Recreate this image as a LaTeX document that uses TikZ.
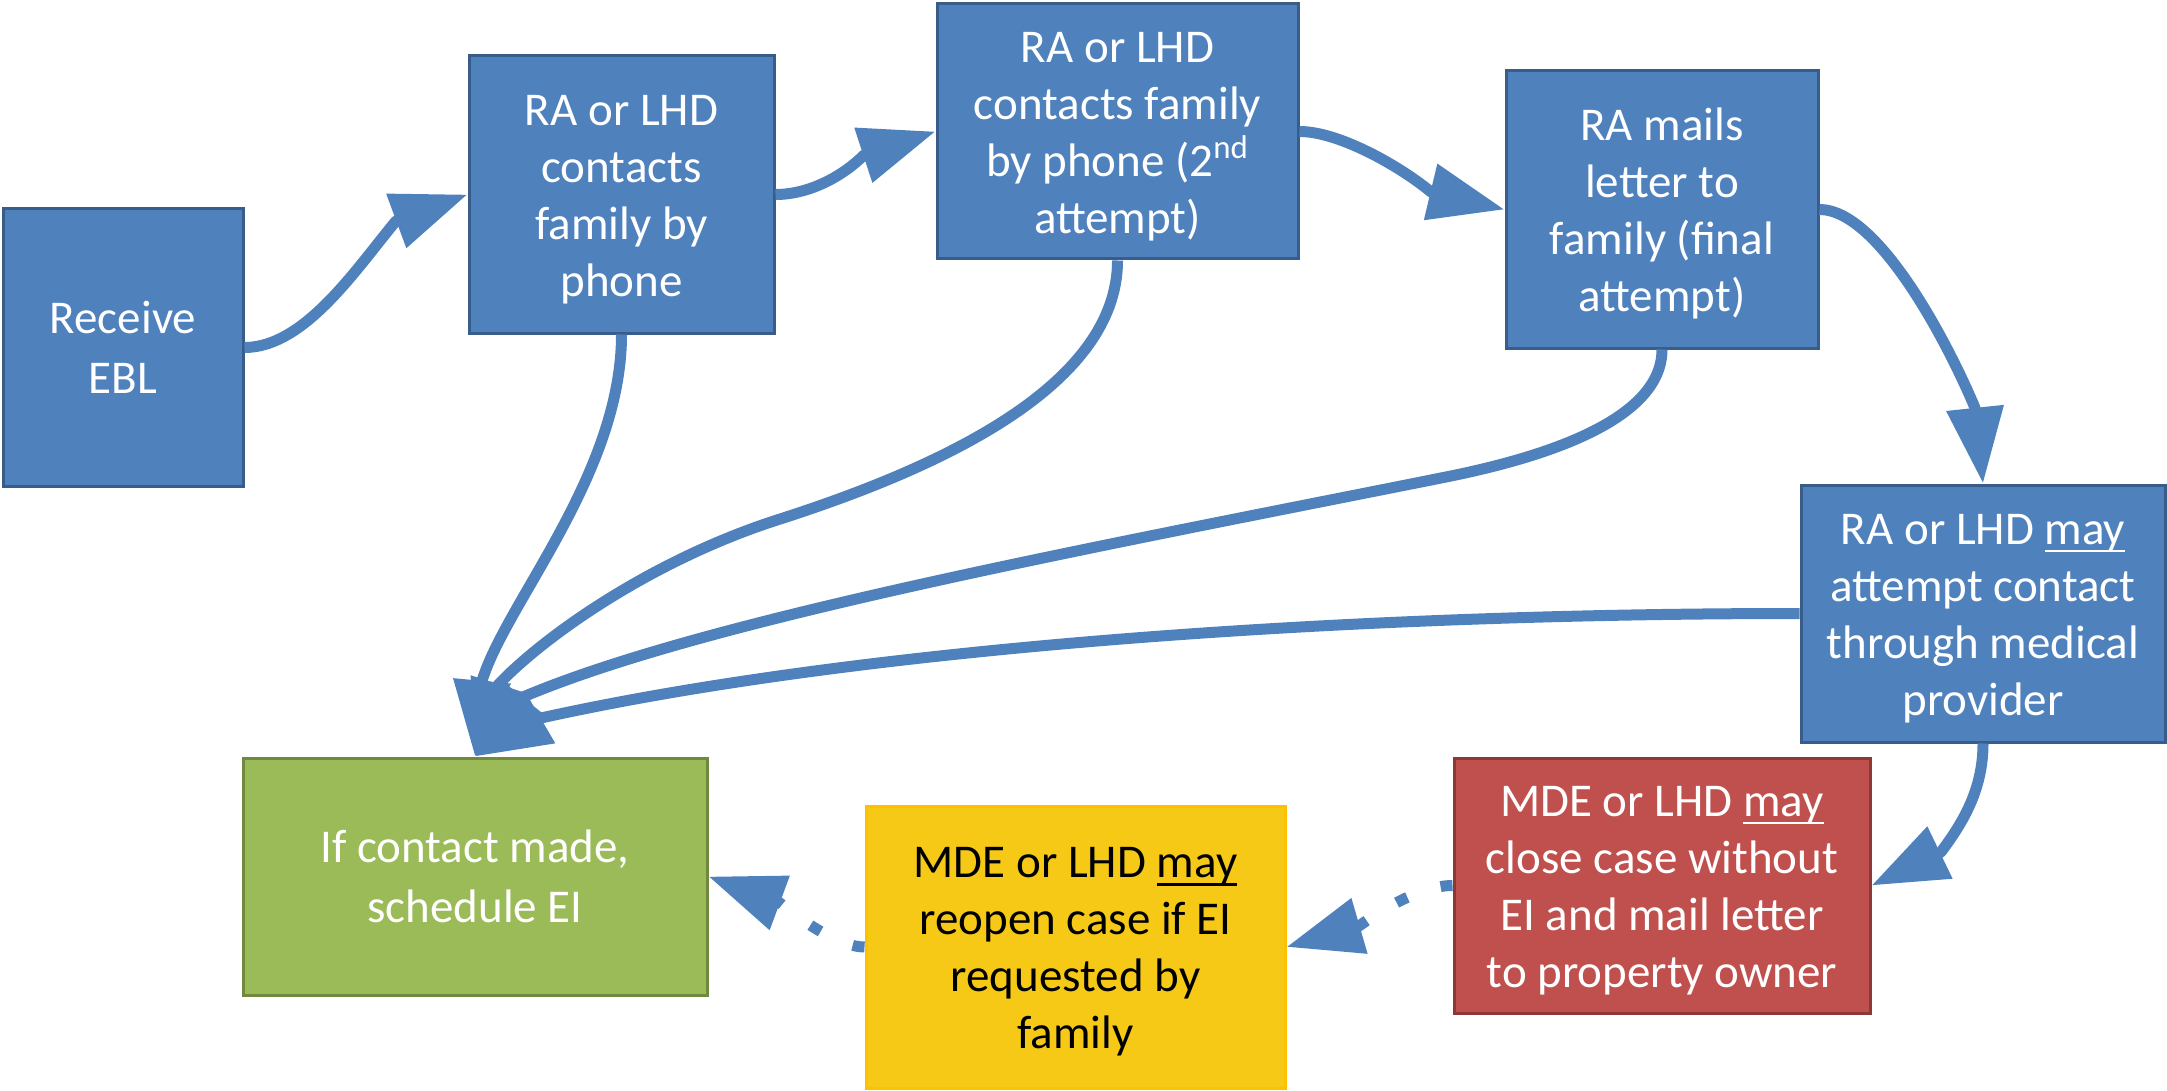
\documentclass[tikz,border=0pt]{standalone}
\usepackage{fontspec}
\setmainfont{Carlito}
\usetikzlibrary{arrows.meta}
\definecolor{bfill}{HTML}{4F81BD}
\definecolor{bline}{HTML}{385D8A}
\definecolor{gfill}{HTML}{9BBB59}
\definecolor{gline}{HTML}{71893F}
\definecolor{rfill}{HTML}{C0504D}
\definecolor{rline}{HTML}{8C3836}
\definecolor{yfill}{HTML}{F5C916}
\definecolor{yline}{HTML}{FFC000}
\definecolor{conn}{HTML}{4F81BD}
\newcommand\myul[1]{\sbox0{#1}\rlap{\rule[-4.1pt]{\wd0}{1.3pt}}\usebox0}
\newcommand\ls{\rule[-6.3pt]{0pt}{28.7pt}}
\begin{document}
\begin{tikzpicture}[x=0.5pt,y=-0.5pt,
  box/.style={draw, line width=1.5pt, inner sep=0pt, align=center, text=white,
    font=\fontsize{23.5pt}{28.5pt}\selectfont},
  bluebox/.style={box, fill=bfill, draw=bline},
  greenbox/.style={box, fill=gfill, draw=gline},
  redbox/.style={box, fill=rfill, draw=rline},
  yellowbox/.style={box, fill=yfill, draw=yline, text=black},
  link/.style={draw=conn, line width=5.5pt, line join=round,
    -{Triangle[length=38pt,width=27.5pt]}},
  dotlink/.style={link, dash pattern=on 6pt off 17.5pt}]
\useasboundingbox (0,0) rectangle (2167,1091);

\node[bluebox, minimum width=120pt, minimum height=138.5pt] (b1) at (123,347.5) {\ls Receive\\EBL\ls};
\node[bluebox, minimum width=152.5pt, minimum height=138.5pt] (b2) at (621.5,194.5) {\ls RA or LHD\\contacts\\family by\\phone\ls};
\node[bluebox, minimum width=180.5pt, minimum height=127.5pt] (b3) at (1117.5,131.5) {\ls RA or LHD\\contacts family\\by phone (2\textsuperscript{nd}\\attempt)\ls};
\node[bluebox, minimum width=156pt, minimum height=138.5pt] (b4) at (1662,209.5) {\ls RA mails\\letter to\\family (final\\attempt)\ls};
\node[bluebox, minimum width=182pt, minimum height=128.5pt] (b5) at (1983,613.5) {\ls RA or LHD \myul{may}\\attempt contact\\through medical\\provider\ls};
\node[redbox, minimum width=208pt, minimum height=127.5pt] (red) at (1662,885.5) {\ls MDE or LHD \myul{may}\\close case without\\EI and mail letter\\to property owner\ls};
\node[yellowbox, minimum width=209.5pt, minimum height=141pt] (y) at (1075.5,947) {\ls MDE or LHD \myul{may}\\reopen case if EI\\requested by\\family\ls};
\node[greenbox, minimum width=232pt, minimum height=118.5pt] (g) at (475,876.5) {\ls If contact made,\\schedule EI\ls};

\coordinate (ha1) at (396,221);
\coordinate (ha2) at (864,155);
\coordinate (ha3) at (1431,192);
\coordinate (ha4) at (1975,408);
\coordinate (ha9) at (1941,852);
\coordinate (ha10) at (1359,926);
\coordinate (ha11) at (780,903);
\coordinate (h5) at (482,681);
\coordinate (h6) at (498,685);
\coordinate (h7) at (523,697);
\coordinate (h8) at (541,718);
\coordinate (m6) at (777,520);
\coordinate (m7) at (1446,477);

\draw[link] (b1.east) .. controls +(60,0) and +(-40,48) .. (ha1) -- (b2.west);
\draw[link] (b2.east) .. controls +(35,0) and +(-20,20) .. (ha2) -- (b3.west);
\draw[link] (b3.east) .. controls +(40,0) and +(-30,-25) .. (ha3) -- (b4.west);
\draw[link] (b4.east) .. controls +(60,0) and +(-25,-60) .. (ha4) -- (b5.north);
\draw[link] (b2.south) .. controls +(0,140) and +(23,-77) .. (h5) -- (g.north);
\draw[link] (b3.south) .. controls +(0,130) and +(150,-48) .. (m6)
  .. controls +(-130,42) and +(42,-45) .. (h6) -- (g.north);
\draw[link] (b4.south) .. controls +(0,70) and +(100,-20) .. (m7)
  .. controls +(-350,70) and +(184,-78) .. (h7) -- (g.north);
\draw[link] (b5.west) .. controls +(-500,0) and +(293,-65) .. (h8) -- (g.north);
\draw[link] (b5.south) .. controls +(0,48) and +(20,-27) .. (ha9) -- (red.east);
\draw[dotlink] (red.west) .. controls +(-30,0) and +(25,-18) .. (ha10) -- (y.east);
\draw[dotlink] (y.west) .. controls +(-25,0) and +(22,18) .. (ha11) -- (g.east);
\end{tikzpicture}
\end{document}
